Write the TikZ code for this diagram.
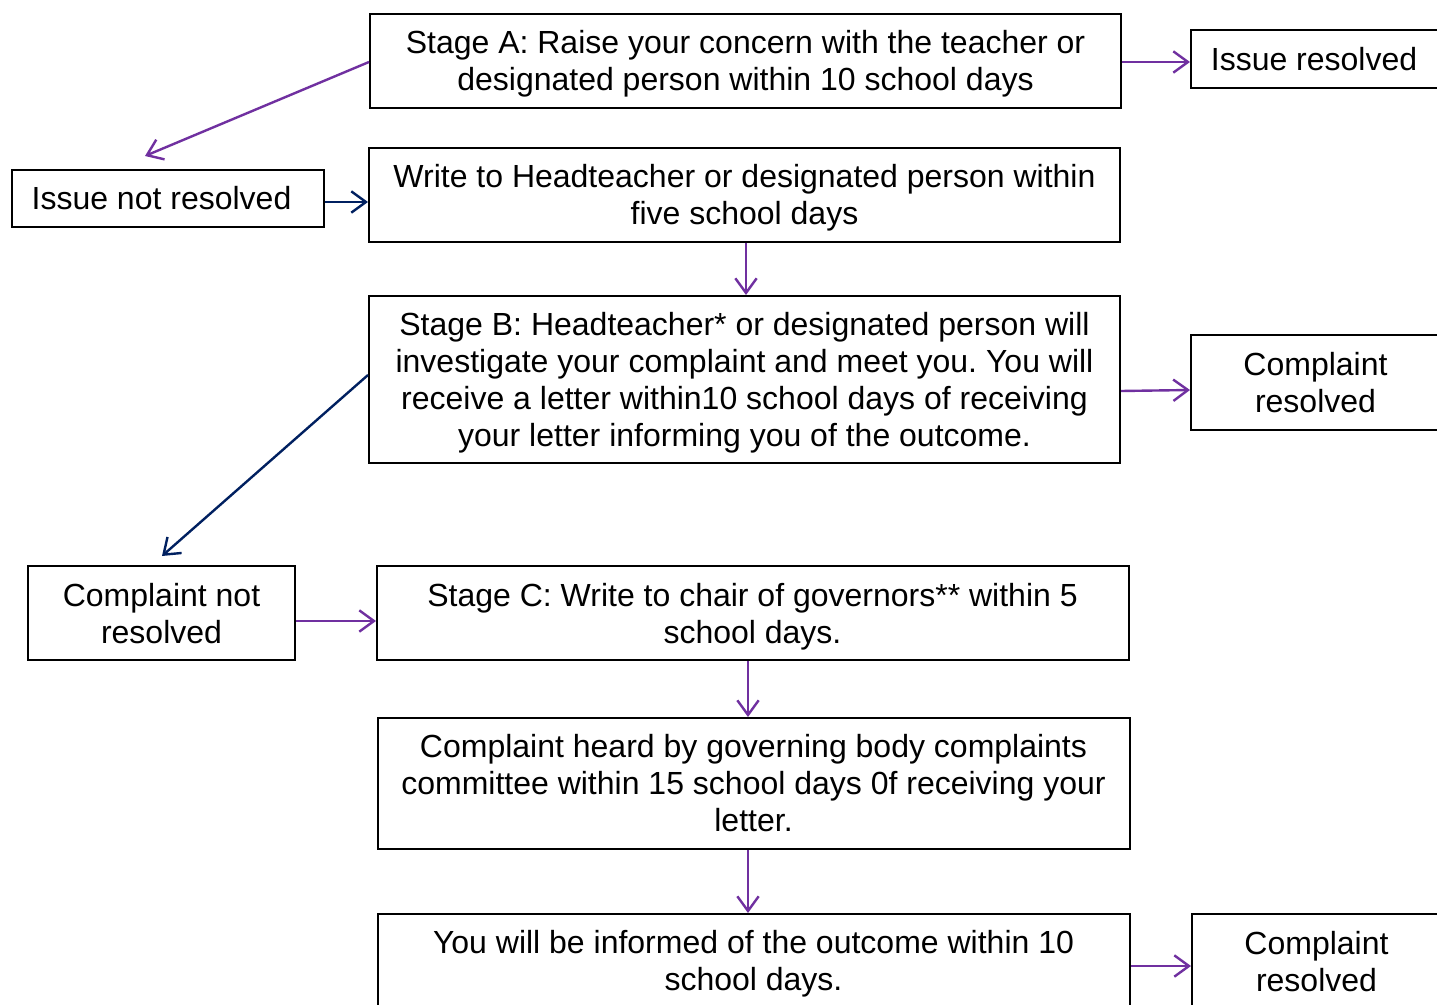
\documentclass[tikz,border=0pt]{standalone}
\usepackage{fontspec}
\setmainfont{Liberation Sans}
\usetikzlibrary{arrows.meta,calc}
\definecolor{arrpurple}{HTML}{7030A0}
\definecolor{arrnavy}{HTML}{002060}
\frenchspacing
\begin{document}
\begin{tikzpicture}[x=0.75pt,y=-0.75pt,
  box/.style={draw=black,line width=1.5pt,inner sep=0pt},
  txt/.style={inner sep=0pt,align=center,
    font=\fontsize{24pt}{27.75pt}\selectfont},
  parr/.style={draw=arrpurple,line width=1.8pt,-{Straight Barb[length=11pt,width=16pt,line width=1.8pt]}},
  narr/.style={draw=arrnavy,line width=1.8pt,-{Straight Barb[length=11pt,width=16pt,line width=1.8pt]}}]
\clip (0,0) rectangle (1437,1005);
\fill[white] (0,0) rectangle (1437,1005);
% boxes
\node[box,minimum width=751*0.75pt,minimum height=94*0.75pt] (A) at (745.5,61) {};
\node[txt] (At) at (745.5,64)
  {Stage A: Raise your concern with the teacher or\\designated person within 10 school days};
\node[box,minimum width=249*0.75pt,minimum height=58*0.75pt] (IR) at (1315.5,59) {};
\node[txt] (IRt) at (1314,59) {Issue resolved};
\node[box,minimum width=312*0.75pt,minimum height=57*0.75pt] (INR) at (168,198.5) {};
\node[txt] (INRt) at (161.5,198.5) {Issue not resolved};
\node[box,minimum width=751*0.75pt,minimum height=94*0.75pt] (W) at (744.5,195) {};
\node[txt] (Wt) at (744.5,198)
  {Write to Headteacher or designated person within\\five school days};
\node[box,minimum width=751*0.75pt,minimum height=167*0.75pt] (B) at (744.5,379.5) {};
\node[txt] (Bt) at (744.5,382.5)
  {Stage B: Headteacher* or designated person will\\investigate your complaint and meet you. You will\\receive a letter within10 school days of receiving\\your letter informing you of the outcome.};
\node[box,minimum width=249*0.75pt,minimum height=95*0.75pt] (CR1) at (1315.5,382.5) {};
\node[txt] (CR1t) at (1315.5,383) {Complaint\\resolved};
\node[box,minimum width=267*0.75pt,minimum height=94*0.75pt] (CNR) at (161.5,613) {};
\node[txt] (CNRt) at (161.5,614) {Complaint not\\resolved};
\node[box,minimum width=752*0.75pt,minimum height=94*0.75pt] (C) at (753,613) {};
\node[txt] (Ct) at (752.5,617)
  {Stage C: Write to chair of governors** within 5\\school days.};
\node[box,minimum width=752*0.75pt,minimum height=131*0.75pt] (CH) at (754,783.5) {};
\node[txt] (CHt) at (753.5,783.5)
  {Complaint heard by governing body complaints\\committee within 15 school days 0f receiving your\\letter.};
\node[box,minimum width=752*0.75pt,minimum height=95*0.75pt] (Y) at (754,961.5) {};
\node[txt] (Yt) at (753.5,963.5)
  {You will be informed of the outcome within 10\\school days.};
\node[box,minimum width=249*0.75pt,minimum height=95*0.75pt] (CR2) at (1316.5,961.5) {};
\node[txt] (CR2t) at (1316.5,961.5) {Complaint\\resolved};
% free ends
\coordinate (e1) at (145,156);
\coordinate (e2) at (162,556);
% connectors
\draw[parr] (A.west |- 0,62) -- (e1);
\draw[parr] (A.east |- 0,62) -- (IR.west |- 0,62);
\draw[narr] (INR.east |- 0,202) -- (W.west |- 0,202);
\draw[parr] (746,0 |- W.south) -- (746,0 |- B.north);
\draw[parr] (B.east |- 0,391) -- (CR1.west |- 0,390);
\draw[narr] (B.west |- 0,375) -- (e2);
\draw[parr] (CNR.east |- 0,621) -- (C.west |- 0,621);
\draw[parr] (748,0 |- C.south) -- (748,0 |- CH.north);
\draw[parr] (748,0 |- CH.south) -- (748,0 |- Y.north);
\draw[parr] (Y.east |- 0,966) -- (CR2.west |- 0,966);
\end{tikzpicture}
\end{document}
